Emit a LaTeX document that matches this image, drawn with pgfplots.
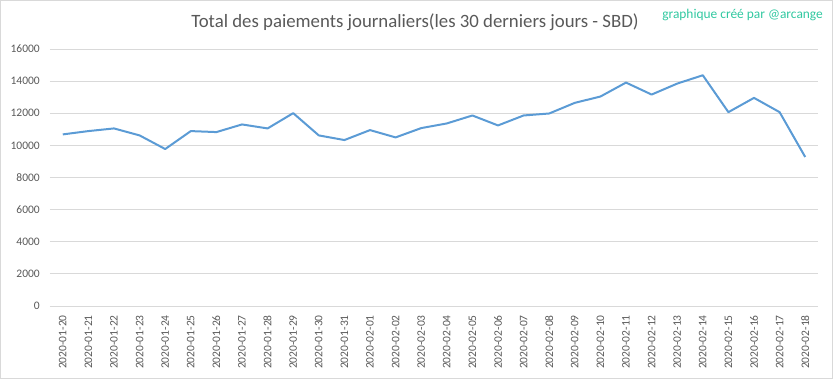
\documentclass[border=0pt]{standalone}
\usepackage{pgfplots}
\pgfplotsset{compat=1.18}
\usepackage{fontspec}
\setmainfont{Carlito}
\definecolor{linec}{HTML}{5B9BD5}
\definecolor{gridc}{HTML}{D9D9D9}
\definecolor{txt}{HTML}{595959}
\definecolor{wm}{RGB}{48,200,160}
\begin{document}
\begin{tikzpicture}[x=1pt,y=1pt]
\useasboundingbox (0,0) rectangle (833,379);
\draw[gridc, line width=1pt] (0.5,0.5) rectangle (832.5,378.5);
\begin{axis}[
  at={(50pt,73pt)}, anchor=south west,
  scale only axis, width=768pt, height=257pt,
  xmin=-0.5, xmax=29.5, ymin=0, ymax=16000,
  ytick={0,2000,...,16000},
  xtick={0,...,29},
  xticklabels={2020-01-20,2020-01-21,2020-01-22,2020-01-23,2020-01-24,2020-01-25,2020-01-26,2020-01-27,2020-01-28,2020-01-29,2020-01-30,2020-01-31,2020-02-01,2020-02-02,2020-02-03,2020-02-04,2020-02-05,2020-02-06,2020-02-07,2020-02-08,2020-02-09,2020-02-10,2020-02-11,2020-02-12,2020-02-13,2020-02-14,2020-02-15,2020-02-16,2020-02-17,2020-02-18},
  axis line style={draw=none},
  tick style={draw=none},
  ymajorgrids,
  major grid style={gridc, line width=0.8pt},
  scaled ticks=false,
  /pgf/number format/1000 sep={},
  /pgf/number format/assume math mode=true,
  tick label style={font=\fontsize{11.5}{13}\selectfont, text=txt, inner sep=0pt},
  x tick label style={rotate=90, anchor=east},
  xticklabel shift=9pt,
  yticklabel shift=10pt,
]
\addplot[linec, line width=2pt, mark=none, line join=round] coordinates {
(0,10683) (1,10889) (2,11055) (3,10620) (4,9772) (5,10889) (6,10827) (7,11303) (8,11055) (9,12006)
(10,10620) (11,10331) (12,10951) (13,10496) (14,11075) (15,11365) (16,11861) (17,11241) (18,11861) (19,11985)
(20,12647) (21,13040) (22,13909) (23,13164) (24,13847) (25,14364) (26,12068) (27,12957) (28,12068) (29,9276)
};
\end{axis}
\node[font=\fontsize{18.8}{22}\selectfont, text=txt] at (415,357) {Total des paiements journaliers(les 30 derniers jours - SBD)};
\node[anchor=east, font=\fontsize{13.4}{16}\selectfont, text=wm, inner sep=0pt] at (823,364) {graphique créé par @arcange};
\end{tikzpicture}
\end{document}
